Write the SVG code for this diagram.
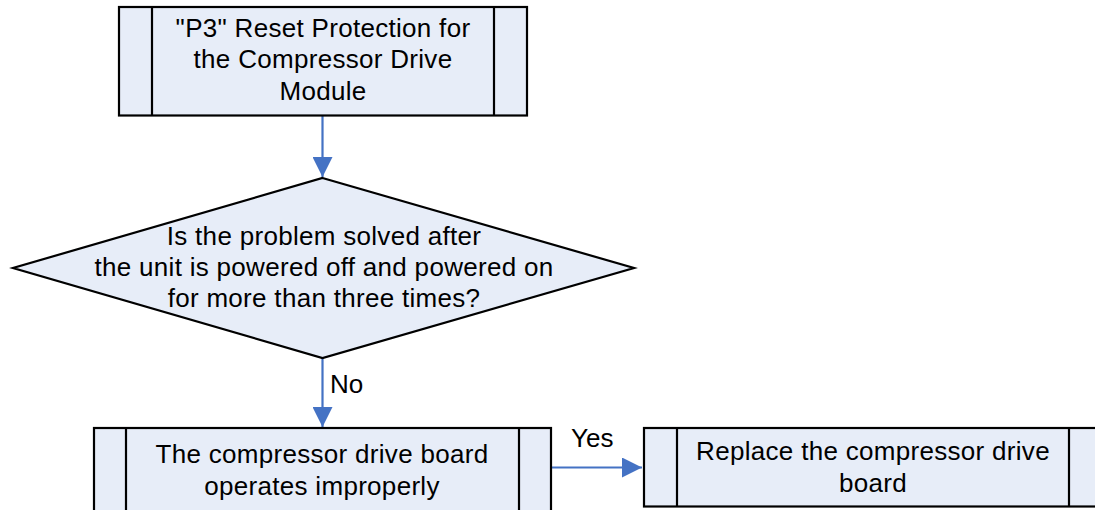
<svg xmlns="http://www.w3.org/2000/svg" width="1095" height="510" viewBox="0 0 1095 510">
<defs>
<style>
.box{fill:#E7EDF8;stroke:#000;stroke-width:2.2}
.ln{stroke:#000;stroke-width:2.2;fill:none}
.t{font-family:"Liberation Sans",Arial,sans-serif;font-size:26px;letter-spacing:0.3px;fill:#000;text-anchor:middle}
.lbl{font-family:"Liberation Sans",Arial,sans-serif;font-size:26px;fill:#000}
.c{stroke:#4472C4;stroke-width:2.2;fill:none}
</style>
<marker id="ah" viewBox="0 0 10 10" refX="10" refY="5" markerUnits="userSpaceOnUse" markerWidth="20" markerHeight="20" orient="auto">
<path d="M0,0 L10,5 L0,10 Z" fill="#4472C4"/>
</marker>
</defs>
<rect width="1095" height="510" fill="#fff"/>
<g id="connectors">
<line class="c" x1="322.5" y1="116" x2="322.5" y2="177" marker-end="url(#ah)"/>
<line class="c" x1="322.5" y1="358" x2="322.5" y2="427" marker-end="url(#ah)"/>
<text class="lbl" x="330" y="393">No</text>
<line class="c" x1="551" y1="467.5" x2="642" y2="467.5" marker-end="url(#ah)"/>
<text class="lbl" x="571" y="447">Yes</text>
</g>
<g id="n1">
<rect class="box" x="119" y="7" width="408" height="108.5"/>
<line class="ln" x1="152" y1="7" x2="152" y2="115.5"/>
<line class="ln" x1="494" y1="7" x2="494" y2="115.5"/>
<text class="t" x="323" y="37">"P3" Reset Protection for</text>
<text class="t" x="323" y="68">the Compressor Drive</text>
<text class="t" x="323" y="100">Module</text>
</g>
<g id="n2">
<polygon class="box" points="322.5,178 634,268 322.5,358 13,268"/>
<text class="t" x="324" y="245">Is the problem solved after</text>
<text class="t" x="324" y="276">the unit is powered off and powered on</text>
<text class="t" x="324" y="307">for more than three times?</text>
</g>
<g id="n3">
<rect class="box" x="94" y="428" width="457" height="100"/>
<line class="ln" x1="126" y1="428" x2="126" y2="528"/>
<line class="ln" x1="519" y1="428" x2="519" y2="528"/>
<text class="t" x="322" y="463">The compressor drive board</text>
<text class="t" x="322" y="495">operates improperly</text>
</g>
<g id="n4">
<rect class="box" x="644" y="428" width="460" height="78.5"/>
<line class="ln" x1="677" y1="428" x2="677" y2="506.5"/>
<line class="ln" x1="1069" y1="428" x2="1069" y2="506.5"/>
<text class="t" x="873" y="460">Replace the compressor drive</text>
<text class="t" x="873" y="492">board</text>
</g>
</svg>
